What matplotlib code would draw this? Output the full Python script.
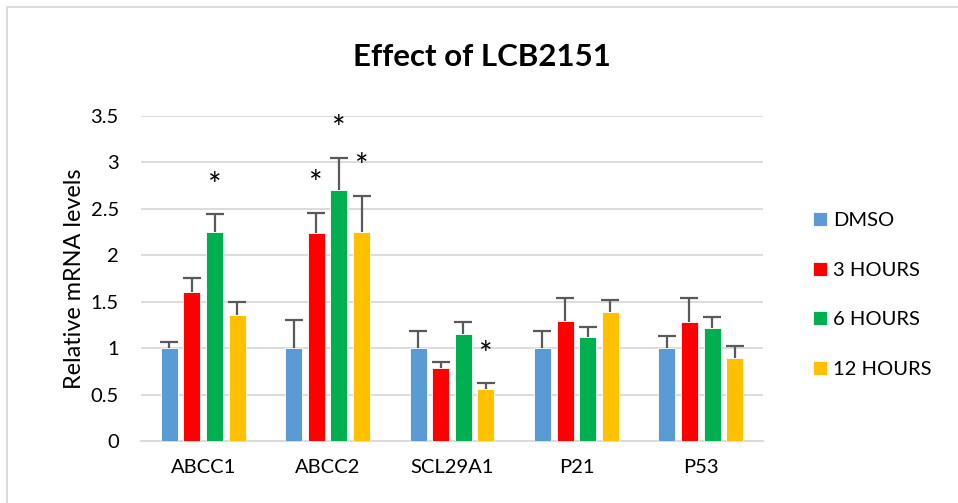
import matplotlib.pyplot as plt
import matplotlib.patches as mpatches
import numpy as np

plt.rcParams['font.family'] = ['Lato', 'DejaVu Sans']

# data
genes = ['ABCC1', 'ABCC2', 'SCL29A1', 'P21', 'P53']
groups = ['DMSO', '3 HOURS', '6 HOURS', '12 HOURS']
dmso = [1.0, 1.0, 1.0, 1.0, 1.0]
h3 = [1.6, 2.24, 0.79, 1.29, 1.28]
h6 = [2.25, 2.70, 1.155, 1.12, 1.22]
h12 = [1.36, 2.25, 0.565, 1.39, 0.89]
# error bar tops (upper only)
dmso_top = [1.07, 1.30, 1.18, 1.18, 1.13]
h3_top = [1.76, 2.46, 0.85, 1.54, 1.54]
h6_top = [2.44, 3.05, 1.285, 1.23, 1.34]
h12_top = [1.50, 2.64, 0.62, 1.52, 1.02]
# significance marks: (gene index, group index)
stars = [(0, 2), (1, 1), (1, 2), (1, 3), (2, 3)]

colors = ['#5B9BD5', '#FF0000', '#00B050', '#FFC000']
values = [dmso, h3, h6, h12]
tops = [dmso_top, h3_top, h6_top, h12_top]

W, H = 958, 503
fig = plt.figure(figsize=(W / 100, H / 100), dpi=100)
ax = fig.add_axes([141 / W, 1 - 441 / H, (763 - 141) / W, (441 - 116) / H])

# chart border (only top/left visible in the crop)
fig.patches.append(mpatches.Rectangle((7 / W, -0.1), 1.2, 1 - 7 / H + 0.1,
                                      transform=fig.transFigure, fill=False,
                                      edgecolor='#D9D9D9', linewidth=1.3))

x = np.arange(len(genes))
step = 0.182
bw = 0.137
for i in range(4):
    xs = x + (i - 1.5) * step
    ax.bar(xs, values[i], width=bw, color=colors[i], edgecolor='white',
           linewidth=0.6, zorder=3, label=groups[i])
    err = np.array(tops[i]) - np.array(values[i])
    eb = ax.errorbar(xs, values[i], yerr=[np.zeros(len(genes)), err], fmt='none',
                     ecolor='#595959', elinewidth=1.6, capsize=6.5, capthick=1.6,
                     zorder=4)
    eb[1][0].set_visible(False)  # no cap at the bar top

for g, s in stars:
    ax.text(x[g] + (s - 1.5) * step, tops[s][g] + 0.3, '*', ha='center',
            va='center', fontsize=23, color='black')

ax.set_xlim(-0.5, len(genes) - 0.5)
ax.set_ylim(0, 3.5)
ax.set_yticks(np.arange(0, 3.51, 0.5))
ax.set_yticklabels(['0', '0.5', '1', '1.5', '2', '2.5', '3', '3.5'])
ax.set_xticks(x)
ax.set_xticklabels(genes)
ax.yaxis.grid(True, color='#D9D9D9', linewidth=1.3, zorder=0)
ax.set_axisbelow(True)
for sp in ['top', 'right', 'left']:
    ax.spines[sp].set_visible(False)
ax.spines['bottom'].set_color('#D9D9D9')
ax.spines['bottom'].set_linewidth(1.3)
ax.tick_params(axis='both', length=0, labelsize=14.5, colors='black')
ax.tick_params(axis='y', pad=16)
ax.tick_params(axis='x', pad=13)
ax.set_ylabel('Relative mRNA levels', fontsize=16.8, labelpad=4)

fig.text(482 / W, 1 - 57 / H, 'Effect of LCB2151', ha='center', va='center',
         fontsize=22.5, fontweight='bold')

ax.legend(loc='center left', bbox_to_anchor=(813 / W, 1 - 295 / H),
          bbox_transform=fig.transFigure, frameon=False, fontsize=14.5,
          handlelength=0.7, handleheight=0.7, handletextpad=0.3,
          labelspacing=1.62, borderpad=0, borderaxespad=0)

fig.savefig('out.png', dpi=100)
